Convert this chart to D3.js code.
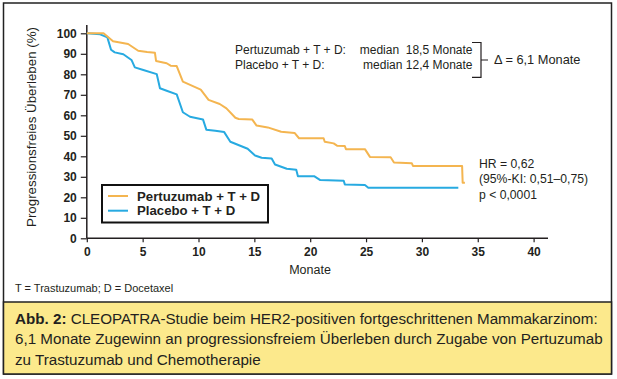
<!DOCTYPE html>
<html><head><meta charset="utf-8">
<script src="https://cdn.jsdelivr.net/npm/d3@7/dist/d3.min.js"></script>
<style>
html,body{margin:0;padding:0;background:#fff;}
svg{display:block;font-family:"Liberation Sans",Arial,sans-serif;}
</style></head>
<body>
<svg id="chart" width="617" height="379"></svg>
<script>
// ---- data ----
const seriesNames = ["Pertuzumab + T + D", "Placebo + T + D"];
const pertuzumabMonths = [0,1.5,2.35,3.7,4.6,5.4,6.1,6.2,7.15,7.5,8.05,8.6,10.2,10.9,11.9,12.5,13.3,13.6,14.8,15.2,16.2,17.4,18.6,19.0,21.2,21.3,22.1,22.4,23.1,23.2,24.9,25.35,27.2,27.5,29.1,29.2,33.6,33.65,33.85];
const pertuzumabPFS    = [100,100,96.1,94.8,91.5,90.9,90.5,86.5,85.4,84.2,84.0,76.4,72.5,67.5,65.5,63.4,58.8,58.2,58.0,55.0,54.1,52.0,51.4,48.8,48.8,47.1,46.3,45.2,45.0,43.5,43.5,39.7,39.5,37.0,36.6,35.3,35.3,27.1,27.1];
const placeboMonths = [0,1.2,1.84,2.17,2.5,3.27,4.0,4.3,5.06,6.26,6.55,7.15,8.05,8.6,9.24,10.4,10.7,11.5,12.3,12.85,14.4,15.06,15.65,16.55,16.85,17.9,18.75,18.9,20.35,20.9,23.0,23.1,24.9,25.2,33.26];
const placeboPFS    = [100,99.5,98,92,90.7,89.8,87,83.4,82.1,80.1,73.2,72,70.2,61.5,59.3,58,53,52.5,51.8,47.1,43.7,40.4,39.3,38.9,36.0,33.9,33.4,30.3,30.3,28.4,28.1,26.3,26.0,24.7,24.7];
const xTicks = [0,5,10,15,20,25,30,35,40];
const yTicks = [0,10,20,30,40,50,60,70,80,90,100];
const medianLabels = ["Pertuzumab + T + D:", "Placebo + T + D:"];
const medianValues = ["median  18,5 Monate", "median 12,4 Monate"];
const deltaLabel = "\u0394 = 6,1 Monate";
const statsLines = ["HR = 0,62", "(95%-KI: 0,51\u20130,75)", "p < 0,0001"];
const footnote = "T = Trastuzumab; D = Docetaxel";
const captionBold = "Abb. 2:";
const captionLines = [" CLEOPATRA-Studie beim HER2-positiven fortgeschrittenen Mammakarzinom:",
  "6,1 Monate Zugewinn an progressionsfreiem \u00dcberleben durch Zugabe von Pertuzumab",
  "zu Trastuzumab und Chemotherapie"];

const colors = ["#F4B550", "#27AAE1"];
const ink = "#231F20";

const svg = d3.select("#chart");

// frame + caption box
svg.append("rect").attr("x",3.5).attr("y",3).attr("width",608).attr("height",371)
  .attr("fill","#fff").attr("stroke","#222").attr("stroke-width",1.5);
svg.append("rect").attr("x",3.5).attr("y",302).attr("width",608).attr("height",72)
  .attr("fill","#FCE98C").attr("stroke","#222").attr("stroke-width",1.5);

const x = d3.scaleLinear().domain([0,40]).range([86.8,533.6]);
const y = d3.scaleLinear().domain([0,100]).range([238.3,33.3]);

// axes
const gx = svg.append("g").attr("transform","translate(0,238.3)")
  .call(d3.axisBottom(x).tickValues(xTicks).tickSize(4).tickPadding(5));
gx.select(".domain").attr("d","M86.8,0H548");
const gy = svg.append("g").attr("transform","translate(86.8,0)")
  .call(d3.axisLeft(y).tickValues(yTicks).tickSize(6).tickPadding(4));
gy.select(".domain").attr("d","M0,25V238.3");
[gx,gy].forEach(g=>{
  g.selectAll(".domain").attr("stroke",ink).attr("stroke-width",1.5);
  g.selectAll(".tick line").attr("stroke",ink).attr("stroke-width",1.2);
  g.selectAll(".tick text").attr("fill",ink).attr("font-size",12).attr("font-weight","bold")
    .attr("font-family","'Liberation Sans',Arial,sans-serif");
});

// axis titles
svg.append("text").attr("x",310).attr("y",274).attr("text-anchor","middle")
  .attr("font-size",12.5).attr("fill",ink).text("Monate");
svg.append("text").attr("transform","translate(36,127) rotate(-90)").attr("text-anchor","middle")
  .attr("font-size",12.5).attr("fill",ink)
  .attr("textLength",200).attr("lengthAdjust","spacingAndGlyphs")
  .text("Progressionsfreies \u00dcberleben (%)");

// curves
const line = d3.line().x(d=>x(d[0])).y(d=>y(d[1]));
const series = [d3.zip(pertuzumabMonths, pertuzumabPFS), d3.zip(placeboMonths, placeboPFS)];
[1,0].forEach(i=>{
  svg.append("path").datum(series[i]).attr("d",line).attr("fill","none")
    .attr("stroke",colors[i]).attr("stroke-width",2).attr("stroke-linejoin","round");
});

// legend
svg.append("rect").attr("x",102).attr("y",185).attr("width",166).attr("height",37.5)
  .attr("fill","#fff").attr("stroke","#111").attr("stroke-width",2);
seriesNames.forEach((n,i)=>{
  const yy = 196 + i*14.7;
  svg.append("line").attr("x1",108).attr("x2",128).attr("y1",yy).attr("y2",yy)
    .attr("stroke",colors[i]).attr("stroke-width",2);
  svg.append("text").attr("x",137).attr("y",yy+4.5).attr("font-size",13.2).attr("font-weight","bold")
    .attr("fill",ink).text(n);
});

// median annotation
medianLabels.forEach((t,i)=>{
  const yy = 54.3 + i*15;
  svg.append("text").attr("x",235).attr("y",yy).attr("font-size",12).attr("fill",ink).text(t);
  svg.append("text").attr("x",472.5).attr("y",yy).attr("text-anchor","end").attr("font-size",12)
    .attr("fill",ink).attr("xml:space","preserve").style("white-space","pre").text(medianValues[i]);
});
svg.append("path").attr("d","M472,42.5H481V77.3H472M481,60H488").attr("fill","none")
  .attr("stroke",ink).attr("stroke-width",1.2);
svg.append("text").attr("x",494).attr("y",64.3).attr("font-size",12.8).attr("fill",ink).text(deltaLabel);

// stats
statsLines.forEach((t,i)=>{
  svg.append("text").attr("x",479).attr("y",167.5+i*15.5).attr("font-size",12.2).attr("fill",ink).text(t);
});

// footnote
svg.append("text").attr("x",15).attr("y",292).attr("font-size",11).attr("fill",ink).text(footnote);

// caption
captionLines.forEach((t,i)=>{
  const tx = svg.append("text").attr("x",15).attr("y",323.5+i*20.5).attr("font-size",15.2).attr("fill",ink)
    .attr("xml:space","preserve").style("white-space","pre");
  if(i===0){ tx.append("tspan").attr("font-weight","bold").text(captionBold); }
  tx.append("tspan").text(t);
});
</script>
</body></html>
